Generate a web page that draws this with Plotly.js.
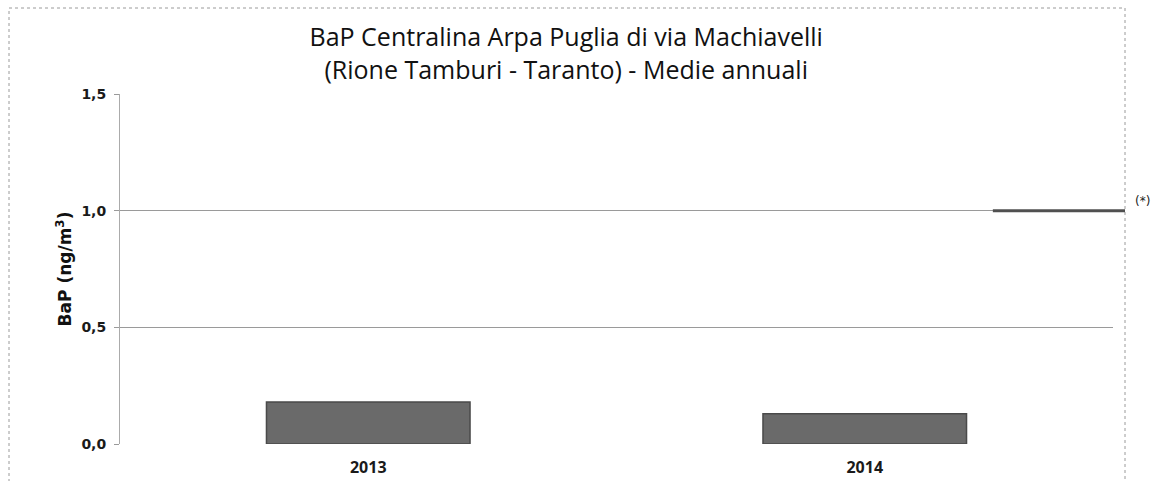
<!DOCTYPE html>
<html>
<head>
<meta charset="utf-8">
<script src="https://cdn.plot.ly/plotly-3.0.1.min.js"></script>
<style>html,body{margin:0;padding:0;background:#fff;}#chart{width:1156px;height:481px;}</style>
</head>
<body>
<div id="chart"></div>
<script>
// Data
var years = ["2013", "2014"];
var bapValues = [0.18, 0.13];
var limitX = [1.258, 1.6];
var limitY = [1.0, 1.0];
var limitLabel = "(*)";
var yTicks = [0, 0.5, 1.0, 1.5];
var titleLine1 = "BaP Centralina Arpa Puglia di via Machiavelli";
var titleLine2 = "(Rione Tamburi - Taranto) - Medie annuali";

var L = 120, R = 31, T = 94, B = 37;
var W = 1156, H = 481;
var paperW = W - L - R;           // 1005
var plotW = 1113 - L;             // 993
var mainDomainEnd = plotW / paperW;

var traces = [
  {
    type: "bar",
    x: [0, 1],
    y: bapValues,
    width: 0.41,
    marker: { color: "#6a6a6a", line: { color: "#4a4a4a", width: 1.5 } },
    xaxis: "x", yaxis: "y",
    hoverinfo: "y"
  },
  {
    type: "scatter",
    mode: "lines",
    x: limitX,
    y: limitY,
    line: { color: "#505050", width: 3 },
    xaxis: "x2", yaxis: "y2",
    hoverinfo: "none"
  }
];

var titleFont = { family: "'Open Sans', sans-serif", size: 25, color: "#111111" };

var layout = {
  width: W, height: H,
  margin: { l: L, r: R, t: T, b: B, pad: 0 },
  paper_bgcolor: "#ffffff",
  plot_bgcolor: "rgba(0,0,0,0)",
  separators: ",.",
  showlegend: false,
  title: {
    text: titleLine1 + "<br>" + titleLine2,
    font: titleFont,
    x: 0.444, xref: "paper", xanchor: "center",
    y: 1 - 46 / H, yref: "container", yanchor: "middle"
  },
  xaxis: {
    domain: [0, mainDomainEnd],
    range: [-0.5, 1.5],
    tickvals: [0, 1],
    ticktext: years,
    showgrid: false,
    zeroline: false,
    showline: false,
    ticks: "",
    tickfont: { family: "'Open Sans', sans-serif", size: 16, color: "#1a1a1a", weight: "bold" },
    ticklabelstandoff: 12,
    fixedrange: true
  },
  yaxis: {
    range: [0, 1.5],
    tickvals: yTicks,
    tickformat: ".1f",
    showgrid: true,
    gridcolor: "#9a9a9a",
    gridwidth: 1,
    zeroline: false,
    showline: true,
    linecolor: "#ababab",
    linewidth: 1,
    ticks: "outside",
    ticklen: 5,
    tickcolor: "#9a9a9a",
    tickfont: { family: "'DejaVu Sans', sans-serif", size: 14, color: "#1a1a1a", weight: "bold" },
    ticklabelstandoff: 5,
    title: {
      text: "BaP (ng/m<sup>3</sup>)",
      font: { family: "'DejaVu Sans', sans-serif", size: 17, color: "#111", weight: "bold" },
      standoff: 5
    },
    fixedrange: true
  },
  xaxis2: {
    domain: [0, 1],
    range: [-0.5, -0.5 + 2 * paperW / plotW],
    anchor: "y2",
    visible: false,
    fixedrange: true
  },
  yaxis2: {
    domain: [0, 1],
    range: [0, 1.5],
    anchor: "x2",
    visible: false,
    fixedrange: true
  },
  annotations: [
    {
      text: limitLabel,
      xref: "paper", yref: "y",
      x: 1.008, y: 1.0,
      xanchor: "left", yanchor: "bottom",
      yshift: 1,
      showarrow: false,
      font: { family: "'DejaVu Sans', sans-serif", size: 12, color: "#222" }
    }
  ],
  shapes: [
    {
      type: "rect", xref: "paper", yref: "paper",
      x0: (9 - L) / paperW, x1: (1125 - L) / paperW,
      y0: -(B + 10) / (H - T - B), y1: (H - B - 8) / (H - T - B),
      line: { color: "#9a9a9a", width: 1, dash: "dot" },
      fillcolor: "rgba(0,0,0,0)",
      layer: "below"
    }
  ]
};

Plotly.newPlot("chart", traces, layout, { displayModeBar: false, staticPlot: true });
</script>
</body>
</html>
